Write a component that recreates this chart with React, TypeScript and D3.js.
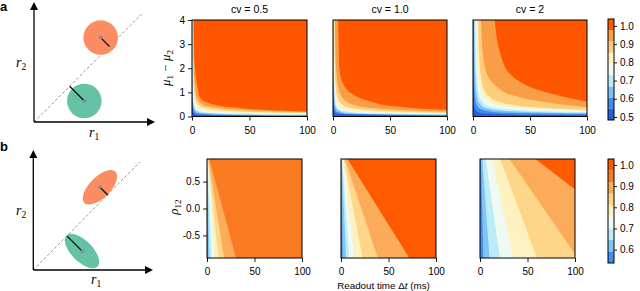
import { useEffect, useRef } from "react"
import * as d3 from "d3"

// ---- data ----
const cvTitles = ["cv = 0.5", "cv = 1.0", "cv = 2"]
const xTicks = [0, 50, 100]
const muTicks = [0, 1, 2, 3, 4]
const rhoTicks = [-0.5, 0, 0.5]
const rhoRange = [-0.92, 0.92]
const topBarTicks = [0.5, 0.6, 0.7, 0.8, 0.9, 1.0]
const bottomBarTicks = [0.6, 0.7, 0.8, 0.9, 1.0]

// contour levels (edges of the colour bands)
const topLevels = [0.4835, 0.545, 0.607, 0.668, 0.73, 0.792, 0.853, 0.915, 0.976, 1.038]
const bottomLevels = [0.537, 0.592, 0.646, 0.701, 0.755, 0.81, 0.864, 0.919, 0.973, 1.028]

const topColors = ["#1f63e0", "#3f8ced", "#7cc1f4", "#bcebfa", "#eefaf4", "#fdf1bd", "#fdcd7c", "#f99d46", "#fe5700"]
const bottomColors = ["#3f8ff0", "#7fc6f6", "#bdecf9", "#eefaf2", "#fdf2bf", "#fdd68a", "#fbab5a", "#fa7a22", "#ff5a00"]

// top row: band boundaries [t (ms), mu1-mu2], one curve per level (lowest first)
const topBoundsCv05 = [
  [[0.2, 4], [0.3, 0.6], [1, 0.18], [5, 0.07], [100, 0.025]],
  [[0.3, 4], [0.4, 1], [1, 0.35], [4, 0.13], [20, 0.07], [100, 0.045]],
  [[0.4, 4], [0.5, 1.5], [1, 0.6], [3, 0.25], [10, 0.14], [40, 0.08], [100, 0.065]],
  [[0.5, 4], [0.6, 2], [1, 0.9], [2, 0.45], [5, 0.25], [15, 0.16], [50, 0.11], [100, 0.09]],
  [[0.6, 4], [0.8, 2], [1.2, 1.1], [2, 0.6], [4, 0.38], [10, 0.26], [30, 0.18], [100, 0.12]],
  [[0.8, 4], [1, 2.4], [1.5, 1.3], [2.5, 0.8], [5, 0.5], [10, 0.36], [25, 0.26], [60, 0.18], [100, 0.15]],
  [[1.1, 4], [1.4, 2.5], [2, 1.6], [3, 1.1], [5, 0.7], [10, 0.48], [20, 0.37], [40, 0.28], [70, 0.22], [100, 0.18]],
  [[1.6, 4], [2, 2.6], [3, 1.8], [4.3, 1.37], [7, 0.78], [10, 0.65], [15, 0.55], [25, 0.44], [33, 0.39], [50, 0.31], [75, 0.25], [100, 0.21]],
]
const topBoundsCv1 = [
  [[0.2, 4], [0.3, 0.8], [1, 0.25], [4, 0.1], [100, 0.03]],
  [[0.35, 4], [0.5, 1.2], [1, 0.5], [3, 0.2], [15, 0.1], [100, 0.05]],
  [[0.5, 4], [0.7, 1.6], [1.3, 0.7], [3, 0.32], [10, 0.16], [40, 0.1], [100, 0.075]],
  [[0.7, 4], [0.9, 1.8], [1.5, 0.9], [3, 0.45], [8, 0.25], [25, 0.15], [100, 0.1]],
  [[0.9, 4], [1.1, 2.2], [1.6, 1.2], [3, 0.65], [6, 0.4], [15, 0.25], [40, 0.17], [100, 0.13]],
  [[1.2, 4], [1.5, 2.4], [2.2, 1.4], [4, 0.8], [8, 0.5], [15, 0.36], [30, 0.27], [60, 0.2], [100, 0.16]],
  [[1.8, 4], [2.2, 2.6], [3, 1.8], [5, 1.15], [8, 0.8], [12, 0.62], [20, 0.46], [35, 0.35], [60, 0.27], [100, 0.21]],
  [[4.5, 4], [5, 3], [5.5, 2.05], [7, 1.6], [9, 1.36], [12, 1.12], [16.4, 0.95], [22, 0.8], [29.6, 0.67], [42, 0.5], [56, 0.41], [75, 0.33], [100, 0.28]],
]
const topBoundsCv2 = [
  [[0.2, 4], [0.4, 1.5], [1, 0.5], [3, 0.22], [10, 0.12], [50, 0.07], [100, 0.055]],
  [[0.6, 4], [0.9, 2], [1.5, 1.0], [3, 0.5], [7, 0.3], [20, 0.18], [60, 0.12], [100, 0.1]],
  [[1.2, 4], [1.6, 2.5], [2.2, 1.5], [3.5, 0.85], [6, 0.52], [12, 0.34], [30, 0.22], [100, 0.14]],
  [[2, 4], [2.5, 2.7], [3.2, 1.8], [4.5, 1.1], [7, 0.7], [12, 0.46], [25, 0.32], [50, 0.24], [100, 0.18]],
  [[3, 4], [3.5, 3], [4.2, 2], [5.5, 1.4], [7.5, 1.0], [11, 0.73], [18, 0.52], [35, 0.38], [60, 0.3], [100, 0.23]],
  [[4.5, 4], [5, 3], [6, 2.1], [7.5, 1.5], [10, 1.1], [15, 0.8], [25, 0.58], [40, 0.45], [60, 0.36], [100, 0.28]],
  [[7, 4], [8, 3], [10.5, 2.05], [14, 1.6], [18, 1.36], [25, 1.08], [41, 0.8], [55, 0.66], [70, 0.55], [100, 0.38]],
  [[19, 4], [21, 3.2], [24, 2.6], [28, 2.05], [34, 1.7], [44, 1.36], [56, 1.12], [70, 0.93], [85, 0.76], [100, 0.62]],
]

// bottom row: straight band boundaries [t at rho top, t at rho bottom], lowest first
const bottomBoundsCv05 = [[0.1, 1], [0.3, 2.5], [0.5, 5], [0.7, 8], [1.0, 12], [1.5, 18], [2.5, 30.5], [300, 300]]
const bottomBoundsCv1 = [[0.3, 1.8], [0.8, 5.3], [1.3, 8.8], [2, 14], [2.8, 22.8], [4.2, 38.6], [7, 72], [7, 72]]
const bottomBoundsCv2 = [[1, 3.5], [2.5, 10], [6, 21], [12.4, 35.5], [21, 60], [31, 103], [58.5, 194], [58.5, 194]]

// schematic: means in (r1, r2) units
const meansA = [{ r1: 0.551, r2: 0.703, color: "#fc8d62" }, { r1: 0.416, r2: 0.175, color: "#66c2a5" }]
const meansB = [{ r1: 0.557, r2: 0.689, color: "#fc8d62", rot: -45 }, { r1: 0.407, r2: 0.158, color: "#66c2a5", rot: 45 }]

const sans = "'Liberation Sans', Arial, Helvetica, sans-serif"
const serif = "'Liberation Serif', 'Times New Roman', serif"

export default function App() {
  const svgRef = useRef<SVGSVGElement>(null)

  useEffect(() => {
    if (!svgRef.current) return
    document.body.style.margin = "0"
    const svg = d3.select(svgRef.current)
    svg.selectAll("*").remove()
    const defs = svg.append("defs")

    // ---------- schematics ----------
    const drawSchematic = (
      box: { x0: number; y0: number; x1: number; y1: number },
      means: any[],
      ellipse: boolean,
      labels: { r2: [number, number]; r1: [number, number] }
    ) => {
      const sx = d3.scaleLinear().domain([0, 1]).range([box.x0, box.x1])
      const sy = d3.scaleLinear().domain([0, 1]).range([box.y0, box.y1])
      const g = svg.append("g")

      // dashed diagonal
      g.append("line")
        .attr("x1", sx(0)).attr("y1", sy(0))
        .attr("x2", sx(0.89)).attr("y2", sy(0.9))
        .attr("stroke", "#9a9a9a").attr("stroke-width", 1)
        .attr("stroke-dasharray", "3,2")

      means.forEach(m => {
        const cx = sx(m.r1), cy = sy(m.r2)
        if (ellipse) {
          g.append("ellipse")
            .attr("cx", cx).attr("cy", cy)
            .attr("rx", 22).attr("ry", 10.5)
            .attr("transform", `rotate(${m.rot},${cx},${cy})`)
            .attr("fill", m.color)
        } else {
          g.append("circle").attr("cx", cx).attr("cy", cy).attr("r", 17.3).attr("fill", m.color)
        }
        // projection onto the diagonal
        const dx = cx - sx(0), dy = cy - sy(0)
        const dot = (dx - dy) / 2
        const px = sx(0) + dot, py = sy(0) - dot
        g.append("line")
          .attr("x1", cx).attr("y1", cy).attr("x2", px).attr("y2", py)
          .attr("stroke", "#111").attr("stroke-width", 1.3)
        g.append("circle").attr("cx", cx).attr("cy", cy).attr("r", 1.8).attr("fill", "#7f8794")
      })

      // axes with arrows
      g.append("line")
        .attr("x1", sx(0)).attr("y1", sy(0)).attr("x2", sx(0)).attr("y2", sy(0.95))
        .attr("stroke", "#000").attr("stroke-width", 1.3)
      g.append("line")
        .attr("x1", sx(0)).attr("y1", sy(0)).attr("x2", sx(0.95)).attr("y2", sy(0))
        .attr("stroke", "#000").attr("stroke-width", 1.3)
      g.append("path")
        .attr("d", `M${sx(0)},${sy(1)} L${sx(0) - 4},${sy(1) + 8} L${sx(0) + 4},${sy(1) + 8} Z`)
        .attr("fill", "#000")
      g.append("path")
        .attr("d", `M${sx(1)},${sy(0)} L${sx(1) - 8},${sy(0) - 4} L${sx(1) - 8},${sy(0) + 4} Z`)
        .attr("fill", "#000")

      const lab = (pos: [number, number], sub: string) => {
        const t = g.append("text")
          .attr("x", pos[0]).attr("y", pos[1])
          .attr("font-family", serif).attr("font-size", 14).attr("fill", "#000")
        t.append("tspan").attr("font-style", "italic").text("r")
        t.append("tspan").attr("font-size", 9.5).attr("dy", 3).text(sub)
      }
      lab(labels.r2, "2")
      lab(labels.r1, "1")
    }

    drawSchematic({ x0: 34, y0: 122, x1: 155, y1: 2 }, meansA, false, { r2: [16, 67], r1: [89, 137] })
    drawSchematic({ x0: 33.3, y0: 270, x1: 153, y1: 150 }, meansB, true, { r2: [16, 215], r1: [91, 284] })

    svg.append("text").attr("x", 0).attr("y", 11)
      .attr("font-family", sans).attr("font-weight", "bold").attr("font-size", 13).text("a")
    svg.append("text").attr("x", 0).attr("y", 151)
      .attr("font-family", sans).attr("font-weight", "bold").attr("font-size", 13).text("b")

    // ---------- heatmaps ----------
    const styleAxis = (ag: any) => {
      ag.select(".domain").remove()
      ag.selectAll("line").attr("stroke", "#000").attr("stroke-width", 0.9)
      ag.selectAll("text").attr("font-family", sans).attr("font-size", 10).attr("fill", "#000")
    }

    const topX = [[192, 307], [333, 447], [473, 587]]
    const topBounds = [topBoundsCv05, topBoundsCv1, topBoundsCv2]
    const yTop = d3.scaleLinear().domain([0, 4]).range([116.5, 20])

    topBounds.forEach((bounds, i) => {
      const x = d3.scaleLinear().domain([0, 100]).range(topX[i])
      const id = `clip-top-${i}`
      defs.append("clipPath").attr("id", id).append("rect")
        .attr("x", x(0)).attr("y", yTop(4))
        .attr("width", x(100) - x(0)).attr("height", yTop(0) - yTop(4))
      const pg = svg.append("g").attr("clip-path", `url(#${id})`)
      pg.append("rect")
        .attr("x", x(0)).attr("y", yTop(4))
        .attr("width", x(100) - x(0)).attr("height", yTop(0) - yTop(4))
        .attr("fill", topColors[0])
      const area = d3.area<number[]>()
        .x(d => x(d[0]))
        .y0(yTop(4))
        .y1(d => yTop(d[1]))
        .curve(d3.curveMonotoneX)
      bounds.forEach((b, k) => {
        pg.append("path").attr("d", area(b as number[][])).attr("fill", topColors[k + 1])
      })
      svg.append("rect")
        .attr("x", x(0)).attr("y", yTop(4))
        .attr("width", x(100) - x(0)).attr("height", yTop(0) - yTop(4))
        .attr("fill", "none").attr("stroke", "#000").attr("stroke-width", 1)

      svg.append("g")
        .attr("transform", `translate(0,${yTop(0)})`)
        .call(d3.axisBottom(x).tickValues(xTicks).tickSize(4).tickPadding(6).tickFormat(d3.format("d")))
        .call(styleAxis)
      if (i === 0) {
        svg.append("g")
          .attr("transform", `translate(${x(0)},0)`)
          .call(d3.axisLeft(yTop).tickValues(muTicks).tickSize(4).tickPadding(3).tickFormat(d3.format("d")))
          .call(styleAxis)
      }
      svg.append("text")
        .attr("x", (topX[i][0] + topX[i][1]) / 2).attr("y", 13)
        .attr("text-anchor", "middle")
        .attr("font-family", sans).attr("font-size", 10.5)
        .text(cvTitles[i])
    })

    // mu label
    const muLab = svg.append("text")
      .attr("transform", "translate(170,68) rotate(-90)")
      .attr("text-anchor", "middle")
      .attr("font-family", serif).attr("font-size", 13)
    muLab.append("tspan").attr("font-style", "italic").text("μ")
    muLab.append("tspan").attr("font-size", 9).attr("dy", 3).text("1")
    muLab.append("tspan").attr("dy", -3).text(" − ")
    muLab.append("tspan").attr("font-style", "italic").text("μ")
    muLab.append("tspan").attr("font-size", 9).attr("dy", 3).text("2")

    const botX = [[207, 302], [341, 436], [480, 575]]
    const botBounds = [bottomBoundsCv05, bottomBoundsCv1, bottomBoundsCv2]
    const yBot = d3.scaleLinear().domain(rhoRange).range([258, 159])

    botBounds.forEach((bounds, i) => {
      const x = d3.scaleLinear().domain([0, 100]).range(botX[i])
      const id = `clip-bot-${i}`
      defs.append("clipPath").attr("id", id).append("rect")
        .attr("x", x(0)).attr("y", yBot(rhoRange[1]))
        .attr("width", x(100) - x(0)).attr("height", yBot(rhoRange[0]) - yBot(rhoRange[1]))
      const pg = svg.append("g").attr("clip-path", `url(#${id})`)
      pg.append("rect")
        .attr("x", x(0)).attr("y", yBot(rhoRange[1]))
        .attr("width", x(100) - x(0)).attr("height", yBot(rhoRange[0]) - yBot(rhoRange[1]))
        .attr("fill", bottomColors[0])
      const area = d3.area<number[]>()
        .y(d => yBot(d[1]))
        .x0(d => x(d[0]))
        .x1(x(400))
      bounds.forEach((b, k) => {
        const pts = [[b[0], rhoRange[1]], [b[1], rhoRange[0]]]
        pg.append("path").attr("d", area(pts)).attr("fill", bottomColors[k + 1])
      })
      svg.append("rect")
        .attr("x", x(0)).attr("y", yBot(rhoRange[1]))
        .attr("width", x(100) - x(0)).attr("height", yBot(rhoRange[0]) - yBot(rhoRange[1]))
        .attr("fill", "none").attr("stroke", "#000").attr("stroke-width", 1)

      svg.append("g")
        .attr("transform", `translate(0,${yBot(rhoRange[0])})`)
        .call(d3.axisBottom(x).tickValues(xTicks).tickSize(4).tickPadding(6).tickFormat(d3.format("d")))
        .call(styleAxis)
      if (i === 0) {
        svg.append("g")
          .attr("transform", `translate(${x(0)},0)`)
          .call(d3.axisLeft(yBot).tickValues(rhoTicks).tickSize(4).tickPadding(3)
            .tickFormat(d => d3.format(".1f")(d as number).replace("−", "-")))
          .call(styleAxis)
      }
    })

    // rho label
    const rhoLab = svg.append("text")
      .attr("transform", "translate(178,207) rotate(-90)")
      .attr("text-anchor", "middle")
      .attr("font-family", serif).attr("font-size", 13)
    rhoLab.append("tspan").attr("font-style", "italic").text("ρ")
    rhoLab.append("tspan").attr("font-size", 9).attr("dy", 3).text("12")

    // x label
    const xl = svg.append("text")
      .attr("x", (botX[1][0] + botX[1][1]) / 2 - 5).attr("y", 288.5)
      .attr("text-anchor", "middle")
      .attr("font-family", sans).attr("font-size", 9.8)
    xl.append("tspan").text("Readout time Δ")
    xl.append("tspan").attr("font-style", "italic").text("t")
    xl.append("tspan").text(" (ms)")

    // ---------- colorbars ----------
    const drawBar = (levels: number[], colors: string[], ticks: number[], top: number, bottom: number) => {
      const cy = d3.scaleLinear().domain([levels[0], levels[levels.length - 1]]).range([bottom, top])
      const bx = 608, bw = 6
      colors.forEach((c, k) => {
        svg.append("rect")
          .attr("x", bx).attr("y", cy(levels[k + 1]))
          .attr("width", bw).attr("height", cy(levels[k]) - cy(levels[k + 1]))
          .attr("fill", c)
      })
      svg.append("rect")
        .attr("x", bx).attr("y", top).attr("width", bw).attr("height", bottom - top)
        .attr("fill", "none").attr("stroke", "#000").attr("stroke-width", 1)
      svg.append("g")
        .attr("transform", `translate(${bx + bw},0)`)
        .call(d3.axisRight(cy).tickValues(ticks).tickSize(3).tickPadding(3).tickFormat(d3.format(".1f")))
        .call(styleAxis)
    }
    drawBar(topLevels, topColors, topBarTicks, 19, 120)
    drawBar(bottomLevels, bottomColors, bottomBarTicks, 159, 263)
  }, [])

  return <svg ref={svgRef} width={640} height={291} style={{ display: "block", background: "#fff" }} />
}
